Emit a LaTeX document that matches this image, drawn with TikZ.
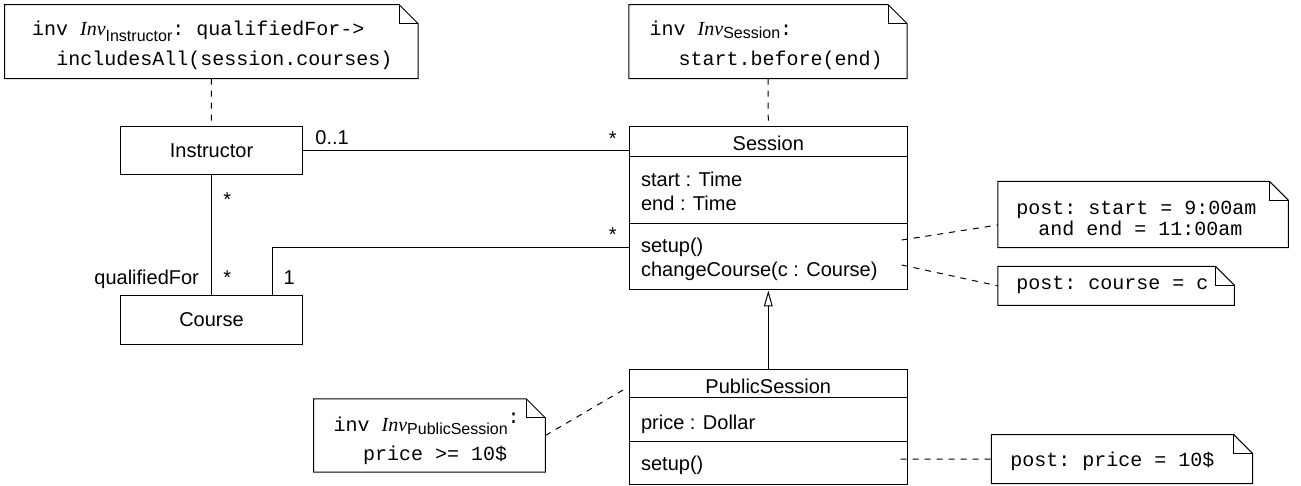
\documentclass[tikz,border=0pt]{standalone}
\usepackage{fontspec}
\setmainfont{Liberation Sans}
\setmonofont{Liberation Mono}
\newfontfamily\invfont{Liberation Serif}
\usetikzlibrary{arrows.meta}

\tikzset{
  umlbox/.style={draw, line width=0.5pt, inner sep=0pt},
  txt/.style={inner sep=0pt, font=\fontsize{10}{12}\selectfont},
  lt/.style={txt, anchor=base west},
  ct/.style={txt, anchor=base},
  rt/.style={txt, anchor=base east},
  code/.style={inner sep=0pt, anchor=base west, font=\ttfamily\fontsize{10}{12}\selectfont},
  notebox/.style={inner sep=0pt},
  assoc/.style={line width=0.5pt},
  anchorline/.style={line width=0.5pt, dash pattern=on 3pt off 3pt},
  gen/.style={line width=0.5pt, -{Triangle[open, length=8pt, width=4.4pt]}},
}

% note outline with a folded top-right corner
\newcommand\foldnote[1]{%
  \draw[line width=0.5pt] (#1.north west) -- ([xshift=-9.5pt]#1.north east)
    -- ([yshift=-9.5pt]#1.north east) -- (#1.south east) -- (#1.south west) -- cycle;
  \draw[line width=0.5pt] ([xshift=-9.5pt]#1.north east) |- ([yshift=-9.5pt]#1.north east);}
% lowered class-name subscript after "Inv"
\newcommand\invsub[2]{\raisebox{-#1}{\rmfamily\upshape\fontsize{8}{8}\selectfont #2}}
\newcommand\invtag{{\invfont\itshape Inv}}

\begin{document}
\begin{tikzpicture}[x=0.5pt, y=-0.5pt]
\useasboundingbox (0,0) rectangle (1301,486);

% ---------- classes ----------
\node[umlbox, minimum width=90.8pt, minimum height=24.15pt] (instructor) at (211.5,150.85) {};
\node[umlbox, minimum width=90.8pt, minimum height=24.15pt] (course) at (211.5,320.15) {};
\node[umlbox, minimum width=139pt, minimum height=81.65pt] (session) at (768.3,208.35) {};
\node[umlbox, minimum width=139pt, minimum height=57.5pt] (public) at (768.3,426.5) {};

\draw[line width=0.5pt] ([yshift=-15pt]session.north west) -- ([yshift=-15pt]session.north east);
\draw[line width=0.5pt] ([yshift=-48.65pt]session.north west) -- ([yshift=-48.65pt]session.north east);
\draw[line width=0.5pt] ([yshift=-14.65pt]public.north west) -- ([yshift=-14.65pt]public.north east);
\draw[line width=0.5pt] ([yshift=-36.35pt]public.north west) -- ([yshift=-36.35pt]public.north east);

\node[ct] (instructorName) at (211.5,157.8) {Instructor};
\node[ct] (courseName) at (211.5,327) {Course};
\node[ct] (sessionName) at (768.3,151) {Session};
\node[lt] (sessionStart) at (640.7,187) {start : Time};
\node[lt] (sessionEnd) at (640.7,211) {end : Time};
\node[lt] (sessionSetup) at (640.7,253) {setup()};
\node[lt] (sessionChange) at (640.7,277) {changeCourse(c : Course)};
\node[ct] (publicName) at (768.3,393) {PublicSession};
\node[lt] (publicPrice) at (640.7,429.3) {price : Dollar};
\node[lt] (publicSetup) at (640.7,470) {setup()};

% ---------- associations ----------
\draw[assoc] (instructor.east) -- (instructor.east -| session.west);
\draw[assoc] (instructor.south) -- (course.north);
\coordinate (courseBend) at (272.3,247.3);
\draw[assoc] (course.north -| courseBend) -- (courseBend) -- (courseBend -| session.west);
\draw[gen] (public.north) -- (session.south);

\node[lt] (mInstrSess) at (315,145) {0..1};
\node[ct] (mSessInstr) at (612.7,145.4) {*};
\node[ct] (mSessCourse) at (612.7,241.5) {*};
\node[ct] (mInstrCourse) at (227.3,206.5) {*};
\node[ct] (mCourseInstr) at (227.3,285) {*};
\node[rt] (roleQualified) at (199.3,285) {qualifiedFor};
\node[ct] (mCourseSess) at (289.3,285) {1};

% ---------- notes ----------
\node[notebox, minimum width=206.35pt, minimum height=36.65pt] (n1) at (211.35,41.65) {};
\foldnote{n1}
\node[code] (n1a) at (31.7,36) {inv \invtag\invsub{2.8pt}{Instructor}: qualifiedFor->};
\node[code] (n1b) at (56,66) {includesAll(session.courses)};

\node[notebox, minimum width=138.7pt, minimum height=36.65pt] (n2) at (768,41.65) {};
\foldnote{n2}
\node[code] (n2a) at (649.3,36) {inv \invtag\invsub{1.5pt}{Session}:};
\node[code] (n2b) at (678.3,66) {start.before(end)};

\node[notebox, minimum width=144.85pt, minimum height=32.8pt] (n3) at (1143.15,214.5) {};
\foldnote{n3}
\node[code] (n3a) at (1016,215) {post: start = 9:00am};
\node[code] (n3b) at (1038,236) {and end = 11:00am};

\node[notebox, minimum width=117.85pt, minimum height=19.15pt] (n4) at (1116.15,285.85) {};
\foldnote{n4}
\node[code] (n4a) at (1016,290) {post: course = c};

\node[notebox, minimum width=115.5pt, minimum height=36.2pt] (n5) at (429.5,435.5) {};
\foldnote{n5}
\node[code] (n5a) at (333.3,431.7) {inv \invtag\invsub{1.2pt}{PublicSession}\raisebox{4pt}{:}};
\node[code] (n5b) at (362.7,460) {price >= 10\$};

\node[notebox, minimum width=130.3pt, minimum height=24.15pt] (n6) at (1122,459.15) {};
\foldnote{n6}
\node[code] (n6a) at (1010,466) {post: price = 10\$};

% ---------- note anchors ----------
\draw[anchorline] (n1.south) -- (instructor.north);
\draw[anchorline] (n2.south) -- (session.north);
\coordinate (setupEnd) at (901.7,240);
\draw[anchorline] (setupEnd) -- ([yshift=-5.25pt]n3.west);
\coordinate (changeEnd) at (901.7,265);
\draw[anchorline] (changeEnd) -- (n4.west);
\coordinate (publicEnd) at (623,390);
\draw[anchorline] (n5.east) -- (publicEnd);
\coordinate (publicSetupEnd) at (900.7,459.2);
\draw[anchorline] (publicSetupEnd) -- (n6.west);
\end{tikzpicture}
\end{document}
